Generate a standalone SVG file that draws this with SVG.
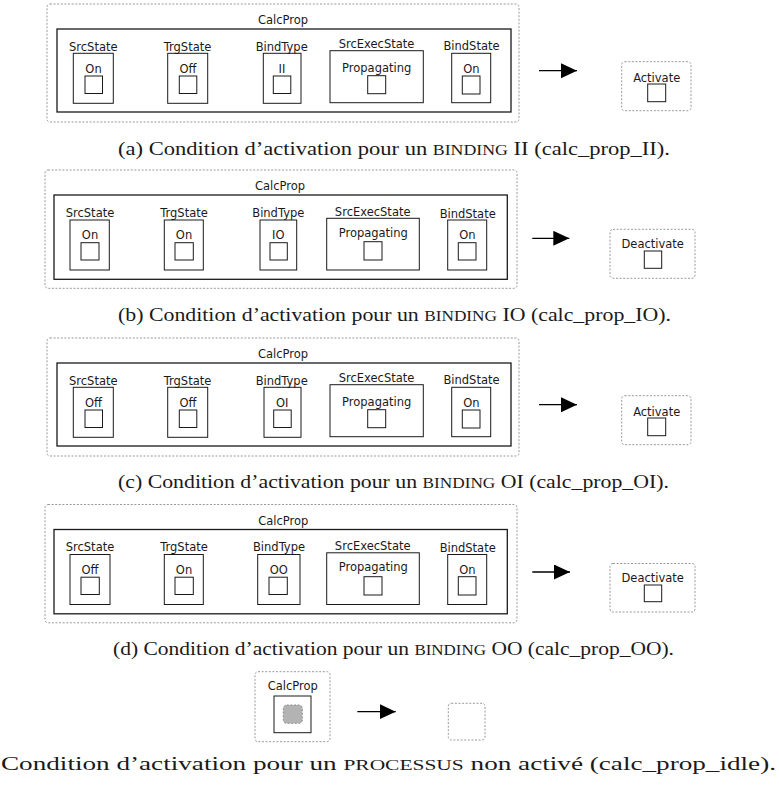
<svg xmlns="http://www.w3.org/2000/svg" width="779" height="789" viewBox="0 0 779 789">
<defs>
<style>
.dash{fill:none;stroke:#9a9a9a;stroke-width:1;stroke-dasharray:2 1.6}
.box{fill:none;stroke:#1a1a1a;stroke-width:1}
.frame{fill:none;stroke:#1a1a1a;stroke-width:1.3}
.lbl{font-family:"DejaVu Sans",sans-serif;font-size:11.5px;text-anchor:middle;fill:#1a1a1a}
.cap{font-family:"Liberation Serif",serif;font-size:19px;fill:#1a1a1a}
.sc{font-size:15px}
.conn{stroke:#000;stroke-width:1.3;fill:none}
.idle{fill:#b3b3b3;stroke:#8c8c8c;stroke-width:1;stroke-dasharray:2 1.6}
</style>
<marker id="ah" markerUnits="userSpaceOnUse" markerWidth="17" markerHeight="16" refX="16" refY="7.5" orient="auto">
<path d="M0,0 L16,7.5 L0,15 Z" fill="#000"/>
</marker>
</defs>
<rect width="779" height="789" fill="#fff"/>

<!-- Panel a -->
<g id="panel-a">
<g id="a-calcprop">
<rect class="dash" x="47" y="4" width="472" height="118" rx="3"/>
<text class="lbl" x="283" y="24">CalcProp</text>
<rect class="frame" x="57" y="29" width="454" height="83"/>
</g>
<g id="a-srcstate">
<text class="lbl" x="93.3" y="50.7">SrcState</text>
<rect class="box" x="73.3" y="53.3" width="40" height="50"/>
<text class="lbl" x="93.5" y="73">On</text>
<rect class="box" x="85" y="76" width="17.5" height="17.5"/>
</g>
<g id="a-trgstate">
<text class="lbl" x="187.5" y="50.7">TrgState</text>
<rect class="box" x="167.7" y="53.3" width="40" height="50"/>
<text class="lbl" x="188" y="73">Off</text>
<rect class="box" x="179.3" y="76" width="17.5" height="17.5"/>
</g>
<g id="a-bindtype">
<text class="lbl" x="281.7" y="50.7">BindType</text>
<rect class="box" x="263.3" y="53.3" width="37.7" height="50"/>
<text class="lbl" x="282" y="73">II</text>
<rect class="box" x="273.3" y="76" width="17.5" height="17.5"/>
</g>
<g id="a-srcexecstate">
<text class="lbl" x="376.5" y="47.7">SrcExecState</text>
<rect class="box" x="330" y="50.7" width="93.3" height="52"/>
<text class="lbl" x="376.7" y="71.7">Propagating</text>
<rect class="box" x="367.7" y="75.7" width="18" height="18"/>
</g>
<g id="a-bindstate">
<text class="lbl" x="471.5" y="50">BindState</text>
<rect class="box" x="451.7" y="53.3" width="39" height="49.4"/>
<text class="lbl" x="471.3" y="73">On</text>
<rect class="box" x="462.3" y="76" width="17.7" height="18"/>
</g>
<g id="a-activate">
<rect class="dash" x="621.7" y="61.7" width="69.3" height="49" rx="3"/>
<text class="lbl" x="656.7" y="81.7">Activate</text>
<rect class="box" x="647.7" y="84" width="18" height="17.7"/>
</g>
<text class="cap" x="118" y="155" textLength="552" lengthAdjust="spacingAndGlyphs">(a) Condition d’activation pour un <tspan class="sc">BINDING</tspan> II (calc_prop_II).</text>
</g>

<!-- Panel b -->
<g id="panel-b">
<g id="b-calcprop">
<rect class="dash" x="45" y="170" width="472" height="118.3" rx="3"/>
<text class="lbl" x="280" y="190">CalcProp</text>
<rect class="frame" x="54" y="195" width="453.3" height="84.3"/>
</g>
<g id="b-srcstate">
<text class="lbl" x="90" y="216.7">SrcState</text>
<rect class="box" x="70" y="220" width="39.3" height="50"/>
<text class="lbl" x="90" y="239.3">On</text>
<rect class="box" x="81" y="242.7" width="18" height="17.3"/>
</g>
<g id="b-trgstate">
<text class="lbl" x="184" y="216.7">TrgState</text>
<rect class="box" x="164.3" y="220" width="39" height="50"/>
<text class="lbl" x="184" y="239.3">On</text>
<rect class="box" x="175" y="242.7" width="18.3" height="17.3"/>
</g>
<g id="b-bindtype">
<text class="lbl" x="278.3" y="216.7">BindType</text>
<rect class="box" x="260" y="220" width="36.7" height="50"/>
<text class="lbl" x="278.3" y="239.3">IO</text>
<rect class="box" x="270" y="242.7" width="17.3" height="17.3"/>
</g>
<g id="b-srcexecstate">
<text class="lbl" x="372.7" y="215.7">SrcExecState</text>
<rect class="box" x="326.7" y="218.3" width="92.6" height="51.7"/>
<text class="lbl" x="373.3" y="236.7">Propagating</text>
<rect class="box" x="364" y="241.7" width="18" height="18.3"/>
</g>
<g id="b-bindstate">
<text class="lbl" x="467.7" y="217.7">BindState</text>
<rect class="box" x="447.7" y="220" width="39" height="50"/>
<text class="lbl" x="467.3" y="239.3">On</text>
<rect class="box" x="458.3" y="242.7" width="17.7" height="17.3"/>
</g>
<g id="b-deactivate">
<rect class="dash" x="610" y="229.3" width="85" height="49" rx="3"/>
<text class="lbl" x="652.7" y="247.7">Deactivate</text>
<rect class="box" x="644.3" y="251" width="17.4" height="17.3"/>
</g>
<text class="cap" x="118" y="321" textLength="553" lengthAdjust="spacingAndGlyphs">(b) Condition d’activation pour un <tspan class="sc">BINDING</tspan> IO (calc_prop_IO).</text>
</g>

<!-- Panel c -->
<g id="panel-c" transform="translate(0,334)">
<g id="c-calcprop">
<rect class="dash" x="47" y="4" width="472" height="118" rx="3"/>
<text class="lbl" x="283" y="24">CalcProp</text>
<rect class="frame" x="57" y="29" width="454" height="83"/>
</g>
<g id="c-srcstate">
<text class="lbl" x="93.3" y="50.7">SrcState</text>
<rect class="box" x="73.3" y="53.3" width="40" height="50"/>
<text class="lbl" x="93.5" y="73">Off</text>
<rect class="box" x="85" y="76" width="17.5" height="17.5"/>
</g>
<g id="c-trgstate">
<text class="lbl" x="187.5" y="50.7">TrgState</text>
<rect class="box" x="167.7" y="53.3" width="40" height="50"/>
<text class="lbl" x="188" y="73">Off</text>
<rect class="box" x="179.3" y="76" width="17.5" height="17.5"/>
</g>
<g id="c-bindtype">
<text class="lbl" x="281.7" y="50.7">BindType</text>
<rect class="box" x="264" y="53.3" width="37" height="50"/>
<text class="lbl" x="282.3" y="73">OI</text>
<rect class="box" x="273.7" y="76" width="17.5" height="17.5"/>
</g>
<g id="c-srcexecstate">
<text class="lbl" x="376.5" y="47.7">SrcExecState</text>
<rect class="box" x="330" y="50.7" width="93.3" height="52"/>
<text class="lbl" x="376.7" y="71.7">Propagating</text>
<rect class="box" x="367.7" y="75.7" width="18" height="18"/>
</g>
<g id="c-bindstate">
<text class="lbl" x="471.5" y="50">BindState</text>
<rect class="box" x="451.7" y="53.3" width="39" height="49.4"/>
<text class="lbl" x="471.3" y="73">On</text>
<rect class="box" x="462.3" y="76" width="17.7" height="18"/>
</g>
<g id="c-activate">
<rect class="dash" x="621.7" y="61.7" width="69.3" height="49" rx="3"/>
<text class="lbl" x="656.7" y="81.7">Activate</text>
<rect class="box" x="647.7" y="84" width="18" height="17.7"/>
</g>
<text class="cap" x="118" y="154" textLength="551" lengthAdjust="spacingAndGlyphs">(c) Condition d’activation pour un <tspan class="sc">BINDING</tspan> OI (calc_prop_OI).</text>
</g>

<!-- Panel d -->
<g id="panel-d" transform="translate(0,334.5)">
<g id="d-calcprop">
<rect class="dash" x="45" y="170" width="472" height="118.3" rx="3"/>
<text class="lbl" x="283.3" y="190.5">CalcProp</text>
<rect class="frame" x="54" y="195" width="453.3" height="84.3"/>
</g>
<g id="d-srcstate">
<text class="lbl" x="90" y="216.7">SrcState</text>
<rect class="box" x="70" y="220" width="40" height="50"/>
<text class="lbl" x="90" y="239">Off</text>
<rect class="box" x="81" y="242.7" width="18.3" height="17.3"/>
</g>
<g id="d-trgstate">
<text class="lbl" x="184" y="216.7">TrgState</text>
<rect class="box" x="164.3" y="220" width="39" height="50"/>
<text class="lbl" x="184" y="239">On</text>
<rect class="box" x="175" y="242.7" width="18.3" height="17.3"/>
</g>
<g id="d-bindtype">
<text class="lbl" x="279" y="216.7">BindType</text>
<rect class="box" x="257.7" y="220" width="42.3" height="50"/>
<text class="lbl" x="278.7" y="239">OO</text>
<rect class="box" x="269" y="242.7" width="18.3" height="17.3"/>
</g>
<g id="d-srcexecstate">
<text class="lbl" x="372.7" y="215.7">SrcExecState</text>
<rect class="box" x="326.7" y="218.3" width="92.6" height="51.7"/>
<text class="lbl" x="373.3" y="236.7">Propagating</text>
<rect class="box" x="364" y="242.2" width="18" height="18.3"/>
</g>
<g id="d-bindstate">
<text class="lbl" x="467.7" y="217.7">BindState</text>
<rect class="box" x="447.7" y="220" width="39" height="50"/>
<text class="lbl" x="467.3" y="239">On</text>
<rect class="box" x="458.3" y="242.2" width="17.7" height="18.3"/>
</g>
<g id="d-deactivate">
<rect class="dash" x="610" y="229" width="85" height="48.5" rx="3"/>
<text class="lbl" x="652.7" y="247.3">Deactivate</text>
<rect class="box" x="644.3" y="250.5" width="17.4" height="16.7"/>
</g>
<text class="cap" x="113" y="320.5" textLength="561" lengthAdjust="spacingAndGlyphs">(d) Condition d’activation pour un <tspan class="sc">BINDING</tspan> OO (calc_prop_OO).</text>
</g>

<!-- Panel idle -->
<g id="panel-idle">
<g id="idle-calcprop">
<rect class="dash" x="255" y="671.7" width="75" height="70" rx="3"/>
<text class="lbl" x="292.7" y="690">CalcProp</text>
<rect class="box" x="274" y="696" width="37" height="36.7"/>
<rect class="idle" x="283.3" y="705" width="19" height="18.3" rx="3.5"/>
</g>
<g id="idle-target">
<rect class="dash" x="448.3" y="703.3" width="36.7" height="36.7" rx="3"/>
</g>
<text class="cap" x="1" y="770" textLength="775" lengthAdjust="spacingAndGlyphs">Condition d’activation pour un <tspan class="sc">PROCESSUS</tspan> non activé (calc_prop_idle).</text>
</g>

<g id="connectors">
<line class="conn" x1="539" y1="70.7" x2="577" y2="70.7" marker-end="url(#ah)"/>
<line class="conn" x1="532.3" y1="238.3" x2="569.3" y2="238.3" marker-end="url(#ah)"/>
<line class="conn" x1="539" y1="404.7" x2="577" y2="404.7" marker-end="url(#ah)"/>
<line class="conn" x1="532.3" y1="572" x2="570" y2="572" marker-end="url(#ah)"/>
<line class="conn" x1="357.3" y1="711.7" x2="395.7" y2="711.7" marker-end="url(#ah)"/>
</g>
</svg>
